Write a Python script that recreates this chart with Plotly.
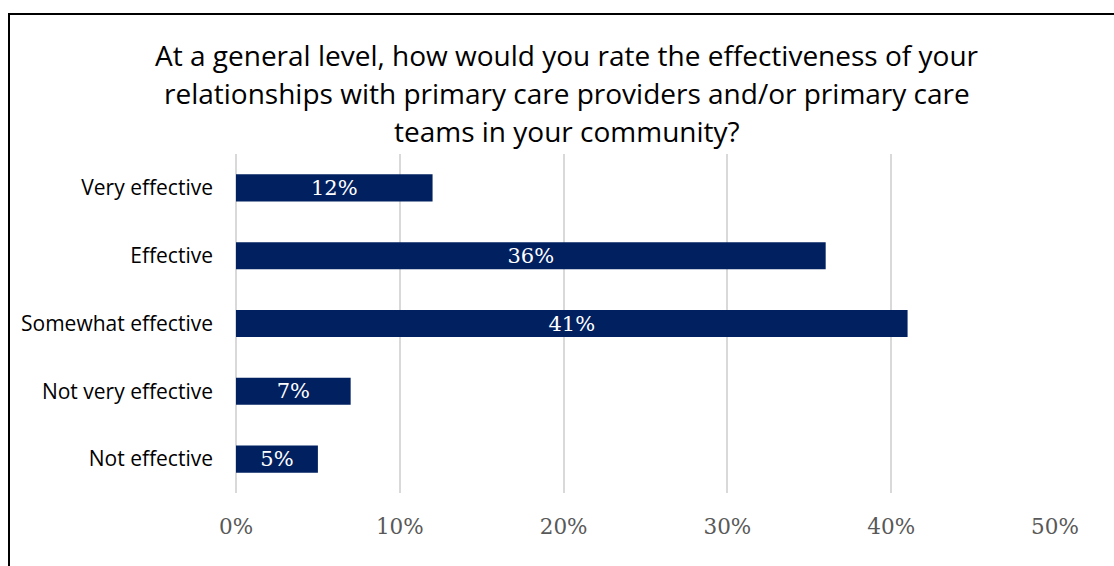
import plotly.graph_objects as go

categories = ["Very effective", "Effective", "Somewhat effective", "Not very effective", "Not effective"]
values = [12, 36, 41, 7, 5]
labels = ["12%", "36%", "41%", "7%", "5%"]
tick_vals = [0, 10, 20, 30, 40, 50]
tick_text = ["0%", "10%", "20%", "30%", "40%", "50%"]
title_lines = [
    "At a general level, how would you rate the effectiveness of your",
    "relationships with primary care providers and/or primary care",
    "teams in your community?",
]

W, H = 1114, 566
L, R, T, B = 236, 59, 154, 73
pw, ph = W - L - R, H - T - B

def px_x(x):
    return (x - L) / pw

def px_y(y):
    return (H - B - y) / ph

fig = go.Figure(go.Bar(
    x=values, y=categories, orientation="h",
    marker=dict(color="#002060", line=dict(width=0)),
    width=0.4,
    text=labels, textposition="inside", insidetextanchor="middle",
    constraintext="none",
    textfont=dict(family="DejaVu Serif", size=21, color="white"),
    textangle=0,
))

fig.update_layout(
    width=W, height=H,
    margin=dict(l=L, r=R, t=T, b=B),
    paper_bgcolor="white", plot_bgcolor="white",
    showlegend=False,
    xaxis=dict(range=[0, 50], tickvals=tick_vals, ticktext=tick_text,
               showgrid=True, gridcolor="#D9D9D9", gridwidth=1.5,
               zeroline=True, zerolinecolor="#D9D9D9", zerolinewidth=1.5,
               showline=False, ticks="", ticklabelstandoff=18,
               tickfont=dict(family="DejaVu Serif", size=21.5, color="#595959")),
    yaxis=dict(autorange="reversed", showgrid=False, showline=False, ticks="",
               ticklabelstandoff=22,
               tickfont=dict(family="Open Sans", size=21, color="#000000")),
)

for i, (line, yc) in enumerate(zip(title_lines, [55, 93, 131])):
    fig.add_annotation(text=line, xref="paper", yref="paper",
                       x=px_x(567), y=px_y(yc), xanchor="center", yanchor="middle",
                       showarrow=False,
                       font=dict(family="Open Sans", size=28, color="#000000"))

fig.add_shape(type="rect", xref="paper", yref="paper",
              x0=px_x(9), x1=px_x(1125), y0=px_y(580), y1=px_y(14),
              line=dict(color="#000000", width=2), fillcolor="rgba(0,0,0,0)", layer="above")

fig.write_html("out.html")
